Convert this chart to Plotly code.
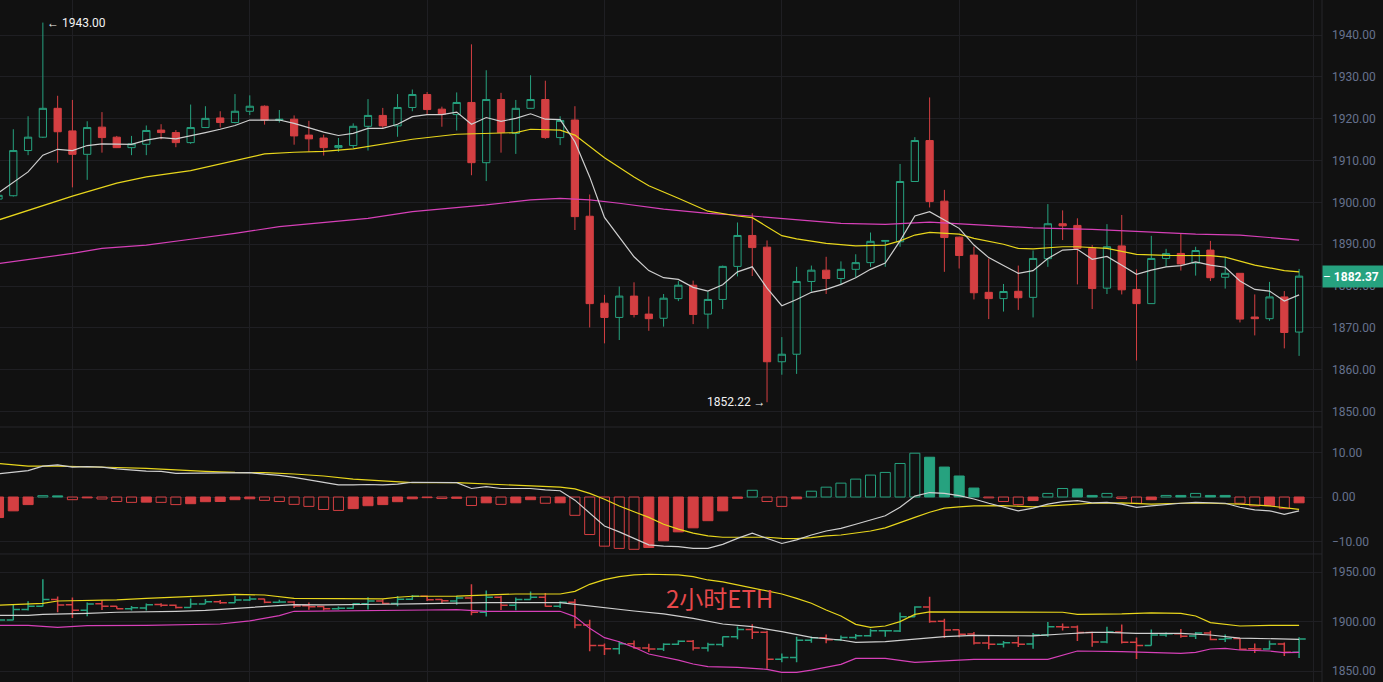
import plotly.graph_objects as go
from plotly.subplots import make_subplots

# --- 2h ETH candles (index 0..88) ---
opens = [1900.8, 1901.6, 1912.4, 1915.6, 1922.5, 1917.1, 1911.5, 1918.0, 1915.6, 1913.1,
         1913.9, 1917.3, 1916.7, 1914.3, 1917.9, 1920.2, 1919.1, 1921.8, 1923.0, 1919.6,
         1919.9, 1916.1, 1915.4, 1913.1, 1913.6, 1918.2, 1920.8, 1918.3, 1922.7, 1925.8,
         1922.3, 1921.0, 1923.9, 1909.5, 1924.6, 1916.5, 1922.5, 1924.6, 1915.5, 1919.7,
         1896.7, 1875.9, 1872.5, 1877.6, 1873.3, 1872.3, 1877.0, 1880.2, 1873.3, 1876.8,
         1884.7, 1892.1, 1889.3, 1861.9, 1863.7, 1881.1, 1883.8, 1881.8, 1884.0, 1885.6,
         1890.7, 1890.6, 1905.0, 1914.8, 1900.3, 1891.7, 1887.4, 1878.5, 1877.0, 1878.75,
         1877.3, 1886.55, 1894.9, 1894.5, 1889.0, 1879.5, 1889.6, 1879.2, 1875.8, 1886.6,
         1887.8, 1885.5, 1888.6, 1882.1, 1883.05, 1872.6, 1872.2, 1877.4, 1869.0]
highs = [1902.0, 1917.5, 1920.6, 1943.0, 1925.5, 1924.5, 1919.4, 1921.6, 1915.9, 1915.9,
         1918.4, 1918.7, 1917.3, 1923.4, 1923.0, 1921.8, 1925.9, 1925.6, 1923.2, 1922.1,
         1920.8, 1919.5, 1916.2, 1915.4, 1918.9, 1924.7, 1922.6, 1925.9, 1927.0, 1926.4,
         1922.9, 1926.3, 1937.8, 1931.6, 1926.2, 1924.5, 1930.4, 1929.1, 1920.6, 1923.0,
         1901.9, 1877.9, 1879.9, 1880.9, 1877.5, 1878.1, 1881.2, 1881.3, 1878.7, 1884.9,
         1895.2, 1897.4, 1890.9, 1867.8, 1884.6, 1884.9, 1887.0, 1885.9, 1887.6, 1892.8,
         1891.0, 1909.2, 1915.6, 1925.1, 1903.0, 1891.8, 1889.4, 1886.6, 1880.5, 1884.9,
         1888.5, 1899.6, 1898.1, 1896.2, 1889.8, 1894.8, 1897.0, 1884.0, 1892.0, 1888.9,
         1892.6, 1889.4, 1890.8, 1887.0, 1883.1, 1878.0, 1881.0, 1878.8, 1884.1]
lows = [1900.5, 1901.4, 1911.3, 1915.4, 1909.5, 1903.6, 1905.4, 1911.9, 1913.0, 1911.3,
        1911.3, 1915.1, 1913.2, 1914.0, 1917.8, 1917.9, 1918.9, 1920.9, 1918.6, 1919.1,
        1913.8, 1912.1, 1911.2, 1912.1, 1913.0, 1912.4, 1917.7, 1915.7, 1921.8, 1920.9,
        1918.1, 1917.2, 1906.5, 1905.1, 1911.9, 1911.6, 1922.4, 1915.2, 1913.7, 1893.4,
        1870.1, 1866.3, 1867.1, 1872.5, 1869.3, 1870.3, 1876.4, 1870.9, 1869.8, 1874.5,
        1882.3, 1882.4, 1852.22, 1858.8, 1859.0, 1878.7, 1878.1, 1880.3, 1882.1, 1884.6,
        1884.6, 1889.4, 1904.9, 1898.8, 1883.4, 1884.2, 1876.8, 1872.1, 1873.9, 1874.3,
        1872.5, 1884.6, 1891.0, 1880.4, 1874.5, 1878.1, 1878.0, 1862.2, 1875.8, 1884.6,
        1883.7, 1882.5, 1881.2, 1879.4, 1871.3, 1868.2, 1871.7, 1865.1, 1863.3]
closes = [1901.7, 1912.4, 1915.6, 1922.5, 1916.9, 1911.5, 1917.9, 1915.5, 1913.1, 1914.0,
          1917.2, 1916.7, 1914.3, 1917.9, 1920.1, 1919.1, 1921.8, 1923.0, 1919.7, 1919.9,
          1915.9, 1915.2, 1913.1, 1913.6, 1918.2, 1920.8, 1918.3, 1922.7, 1925.8, 1922.2,
          1921.1, 1923.9, 1909.5, 1924.6, 1916.7, 1922.5, 1924.6, 1915.5, 1919.6, 1896.6,
          1875.8, 1872.5, 1877.6, 1873.2, 1872.2, 1877.1, 1880.2, 1873.2, 1876.8, 1884.7,
          1892.1, 1889.2, 1861.9, 1863.7, 1881.1, 1883.8, 1881.8, 1884.0, 1885.6, 1890.7,
          1890.9, 1905.0, 1914.8, 1900.2, 1891.6, 1887.3, 1878.4, 1877.0, 1878.7, 1877.2,
          1886.6, 1894.9, 1894.4, 1889.0, 1879.4, 1889.4, 1879.1, 1875.8, 1886.6, 1887.75,
          1885.3, 1888.5, 1882.0, 1883.05, 1872.1, 1872.2, 1877.4, 1868.9, 1882.37]
idx = list(range(len(closes)))

# moving averages on the price panel
ma_white = [1902.3, 1904.7, 1907.3, 1911.3, 1912.7, 1912.4, 1913.6, 1914.0, 1913.9, 1913.9,
            1914.9, 1915.5, 1915.2, 1915.9, 1916.7, 1917.5, 1918.4, 1919.7, 1919.7, 1919.7,
            1918.9, 1917.9, 1916.8, 1916.0, 1916.5, 1917.7, 1917.7, 1918.7, 1920.5, 1921.0,
            1921.0, 1921.6, 1918.7, 1920.3, 1919.4, 1920.1, 1921.2, 1919.9, 1919.8, 1914.5,
            1906.1, 1896.4, 1891.8, 1887.0, 1883.7, 1882.0, 1881.6, 1879.7, 1878.8, 1880.3,
            1883.4, 1884.6, 1879.5, 1875.3, 1876.8, 1878.5, 1879.2, 1880.4, 1882.0, 1884.0,
            1885.5, 1890.8, 1896.75, 1897.8, 1895.8, 1893.8, 1889.8, 1886.8, 1884.9, 1883.05,
            1883.7, 1886.6, 1888.6, 1888.8, 1886.4, 1887.1, 1885.0, 1882.8, 1883.8, 1884.6,
            1884.9, 1885.8, 1885.0, 1884.5, 1881.2, 1879.2, 1878.8, 1876.4, 1877.9]
ma_yellow_x = [0, 3, 5, 8, 10, 13, 16, 18, 20, 22, 24, 26, 28, 31, 33, 35, 36, 38, 39, 41,
               43, 44, 46, 48, 50, 51, 52, 53, 54, 56, 58, 60, 61, 62, 63, 64, 65, 66, 68,
               69, 70, 72, 73, 75, 77, 79, 82, 83, 85, 87, 88]
ma_yellow = [1895.8, 1899.2, 1901.5, 1904.6, 1906.1, 1907.6, 1910.1, 1911.6, 1912.0, 1912.2,
             1912.8, 1913.9, 1915.1, 1916.3, 1916.5, 1916.7, 1917.5, 1917.3, 1916.1, 1910.7,
             1906.1, 1904.0, 1901.0, 1897.9, 1896.75, 1896.35, 1894.2, 1892.05, 1891.3,
             1890.2, 1889.6, 1889.8, 1890.8, 1892.2, 1892.85, 1892.6, 1892.4, 1891.4, 1890.0,
             1889.0, 1888.9, 1889.4, 1889.4, 1889.0, 1887.6, 1887.35, 1887.3, 1886.9, 1885.0,
             1883.7, 1883.4]
ma_pink_x = [0, 3, 5, 7, 10, 13, 16, 19, 22, 25, 28, 31, 33, 36, 38, 40, 42, 45, 48, 51,
             54, 57, 60, 63, 66, 70, 74, 78, 81, 84, 88]
ma_pink = [1885.4, 1886.8, 1887.8, 1889.0, 1889.8, 1891.2, 1892.6, 1894.2, 1895.2, 1896.2,
           1897.8, 1898.8, 1899.4, 1900.6, 1900.95, 1900.6, 1899.8, 1898.4, 1897.4, 1896.75,
           1895.8, 1895.0, 1894.75, 1895.3, 1894.7, 1893.9, 1893.55, 1892.85, 1892.4, 1892.2,
           1891.0]

# MACD panel
macd_hist = [-4.6, -3.1, -1.7, 0.3, 0.25, -0.6, -0.2, -0.45, -1.0, -1.2,
             -1.15, -1.2, -1.7, -1.5, -1.05, -1.0, -0.6, -0.4, -0.75, -1.0,
             -1.65, -2.1, -2.8, -3.0, -2.6, -1.95, -1.7, -1.05, -0.4, -0.15,
             -0.35, -0.3, -1.9, -1.3, -1.65, -1.3, -0.6, -1.4, -1.3, -4.1,
             -8.4, -11.0, -11.5, -11.7, -11.3, -9.8, -7.8, -6.9, -5.3, -3.1,
             -0.3, 1.5, -1.0, -2.1, -0.4, 1.3, 2.2, 3.1, 4.0, 4.9,
             5.5, 7.5, 9.8, 8.9, 6.7, 4.7, 2.0, -0.2, -1.0, -1.7,
             -0.8, 0.8, 1.9, 1.8, 0.35, 0.8, -0.35, -1.4, -0.6, 0.35,
             0.35, 0.8, 0.35, 0.35, -1.4, -2.0, -1.95, -2.6, -1.3]
dif_x = [0, 2, 3, 4, 5, 6, 7, 8, 10, 11, 12, 14, 16, 17, 18, 19, 20, 21, 22, 23, 24, 25,
         26, 27, 28, 31, 32, 33, 34, 36, 37, 38, 39, 40, 41, 42, 43, 44, 45, 46, 47, 48,
         49, 50, 51, 52, 53, 54, 55, 56, 57, 58, 59, 60, 61, 62, 63, 64, 65, 66, 67, 68,
         69, 70, 71, 72, 73, 74, 75, 76, 77, 78, 79, 80, 81, 82, 83, 84, 85, 86, 87, 88]
dif = [5.2, 5.9, 6.9, 7.2, 6.7, 6.8, 6.7, 6.3, 5.8, 5.75, 5.3, 5.3, 5.4, 5.45, 5.1, 4.85,
       4.4, 3.8, 3.3, 2.7, 2.7, 2.8, 2.7, 2.9, 3.3, 3.2, 1.9, 2.3, 1.9, 1.9, 1.6, 1.4,
       -0.7, -3.7, -6.5, -7.8, -9.25, -10.7, -11.0, -11.1, -11.5, -11.5, -10.6, -9.25,
       -8.1, -9.25, -10.4, -9.6, -8.5, -7.6, -7.0, -6.1, -5.15, -4.2, -2.3, 0.2, 1.0, 0.8,
       0.3, -0.45, -1.4, -2.3, -3.1, -2.5, -1.6, -1.05, -0.8, -1.3, -1.2, -1.6, -2.3,
       -2.0, -1.65, -1.4, -1.2, -1.3, -1.4, -2.3, -2.9, -3.1, -3.9, -3.1]
dea_x = [0, 2, 4, 6, 8, 10, 12, 14, 16, 18, 20, 22, 24, 26, 28, 31, 33, 35, 37, 38, 39,
         40, 41, 42, 43, 44, 45, 46, 47, 48, 49, 52, 53, 54, 55, 56, 57, 58, 59, 60, 61,
         62, 63, 64, 65, 66, 68, 70, 72, 74, 76, 78, 80, 82, 84, 86, 88]
dea = [7.5, 6.9, 6.9, 6.8, 6.6, 6.4, 6.0, 5.75, 5.5, 5.45, 5.15, 4.7, 4.0, 3.65, 3.2, 3.2,
       2.9, 2.6, 2.3, 2.2, 1.8, 0.8, -0.5, -2.0, -3.3, -4.55, -6.1, -7.2, -8.1, -8.7,
       -9.0, -9.0, -9.25, -9.3, -9.1, -8.7, -8.5, -8.1, -7.6, -6.9, -5.8, -4.55, -3.4,
       -2.5, -2.2, -2.0, -1.95, -2.2, -1.8, -1.4, -1.3, -1.6, -1.4, -1.4, -1.6, -2.0, -2.75]

# bollinger bands on the lower price panel
boll_up_x = [0, 2, 3, 4, 6, 8, 10, 12, 14, 16, 17, 18, 20, 22, 24, 26, 27, 28, 31, 33,
             35, 38, 39, 40, 41, 42, 43, 44, 46, 47, 48, 49, 50, 51, 52, 53, 54, 55, 56,
             57, 58, 59, 60, 61, 62, 63, 72, 73, 76, 78, 80, 81, 82, 84, 86, 88]
boll_up = [1916.6, 1917.6, 1918.6, 1920.9, 1921.6, 1922.0, 1923.6, 1924.7, 1926.0, 1927.7,
           1927.7, 1927.0, 1923.6, 1923.3, 1922.6, 1923.0, 1924.7, 1925.7, 1925.9, 1927.0,
           1928.0, 1928.0, 1930.7, 1937.8, 1942.6, 1945.6, 1947.3, 1948.0, 1947.3, 1945.6,
           1942.2, 1940.2, 1937.2, 1934.5, 1931.4, 1928.0, 1923.6, 1918.6, 1911.8, 1905.7,
           1897.3, 1894.3, 1895.6, 1900.0, 1907.4, 1909.8, 1909.5, 1907.4, 1907.8, 1908.8,
           1908.4, 1905.7, 1899.0, 1895.6, 1896.3, 1896.3]
boll_mid_x = [0, 2, 3, 5, 6, 8, 10, 12, 14, 16, 18, 20, 22, 24, 26, 28, 31, 33, 38, 39,
              41, 43, 45, 47, 49, 51, 53, 55, 57, 58, 60, 62, 64, 66, 68, 70, 72, 74, 75,
              77, 80, 82, 84, 86, 88]
boll_mid = [1906.4, 1906.4, 1907.4, 1907.8, 1908.4, 1909.5, 1909.8, 1910.5, 1911.5, 1913.5,
            1915.2, 1917.2, 1916.9, 1916.9, 1917.6, 1917.9, 1918.6, 1919.3, 1919.3, 1917.6,
            1913.5, 1910.8, 1907.8, 1903.4, 1897.6, 1894.9, 1889.9, 1884.1, 1881.4, 1879.1,
            1879.8, 1882.1, 1884.8, 1886.2, 1886.2, 1885.5, 1887.5, 1889.2, 1889.2, 1888.2,
            1888.2, 1886.5, 1883.4, 1882.8, 1882.1]
boll_low_x = [0, 2, 4, 6, 10, 14, 15, 17, 19, 20, 24, 28, 29, 31, 33, 38, 39, 40, 41, 42,
              43, 44, 45, 46, 47, 48, 50, 51, 52, 53, 54, 55, 56, 57, 58, 60, 62, 64, 66,
              71, 73, 76, 78, 80, 81, 82, 83, 84, 86, 87, 88]
boll_low = [1896.3, 1896.3, 1894.3, 1895.9, 1896.3, 1897.3, 1897.6, 1900.7, 1906.1, 1910.5,
            1910.8, 1911.1, 1911.8, 1912.2, 1910.5, 1910.5, 1905.1, 1893.2, 1883.8, 1879.7,
            1874.0, 1867.2, 1864.5, 1861.1, 1857.1, 1854.4, 1853.7, 1852.7, 1851.7, 1848.6,
            1848.6, 1851.0, 1853.7, 1856.8, 1862.8, 1862.8, 1858.8, 1860.1, 1861.8, 1861.8,
            1870.3, 1869.6, 1868.9, 1867.9, 1868.9, 1872.3, 1873.0, 1871.3, 1870.3, 1868.6,
            1868.9]

price_ticks = [1850, 1860, 1870, 1880, 1890, 1900, 1910, 1920, 1930, 1940]
macd_ticks = [-10, 0, 10]
boll_ticks = [1850, 1900, 1950]
day_lines = [5, 17, 29, 41, 53, 65, 77, 89]

BG = "#111111"
GRID = "#1f1f23"
GREEN = "#26a27f"
RED = "#d43f42"
WHITE = "#cfcfcf"
YELLOW = "#e8d61c"
PINK = "#d640b8"
LABEL = "#66718e"

fig = make_subplots(rows=3, cols=1, shared_xaxes=True, vertical_spacing=0)

fig.add_trace(go.Candlestick(
    x=idx, open=opens, high=highs, low=lows, close=closes,
    increasing=dict(line=dict(color=GREEN, width=1), fillcolor="rgba(0,0,0,0)"),
    decreasing=dict(line=dict(color=RED, width=1), fillcolor=RED),
    whiskerwidth=0, hoverinfo="skip"), row=1, col=1)
fig.add_trace(go.Scatter(x=ma_pink_x, y=ma_pink, mode="lines",
                         line=dict(color=PINK, width=1.2)), row=1, col=1)
fig.add_trace(go.Scatter(x=ma_yellow_x, y=ma_yellow, mode="lines",
                         line=dict(color=YELLOW, width=1.2)), row=1, col=1)
fig.add_trace(go.Scatter(x=idx, y=ma_white, mode="lines",
                         line=dict(color=WHITE, width=1.2)), row=1, col=1)

# hollow bar when the histogram moves away from zero
fills, edges = [], []
for i, v in enumerate(macd_hist):
    col = GREEN if v >= 0 else RED
    prev = macd_hist[i - 1] if i > 0 else v
    hollow = (v >= 0 and v > prev) or (v < 0 and v < prev)
    fills.append("rgba(0,0,0,0)" if hollow else col)
    edges.append(col)
fig.add_trace(go.Bar(x=idx, y=macd_hist, width=0.68,
                     marker=dict(color=fills, line=dict(color=edges, width=1))),
              row=2, col=1)
fig.add_trace(go.Scatter(x=dea_x, y=dea, mode="lines",
                         line=dict(color=YELLOW, width=1.2)), row=2, col=1)
fig.add_trace(go.Scatter(x=dif_x, y=dif, mode="lines",
                         line=dict(color=WHITE, width=1.2)), row=2, col=1)

fig.add_trace(go.Ohlc(
    x=idx, open=opens, high=highs, low=lows, close=closes, tickwidth=0.45,
    increasing=dict(line=dict(color=GREEN, width=1.5)),
    decreasing=dict(line=dict(color=RED, width=1.5)), hoverinfo="skip"), row=3, col=1)
fig.add_trace(go.Scatter(x=boll_up_x, y=boll_up, mode="lines",
                         line=dict(color=YELLOW, width=1.2)), row=3, col=1)
fig.add_trace(go.Scatter(x=boll_mid_x, y=boll_mid, mode="lines",
                         line=dict(color=WHITE, width=1.2)), row=3, col=1)
fig.add_trace(go.Scatter(x=boll_low_x, y=boll_low, mode="lines",
                         line=dict(color=PINK, width=1.2)), row=3, col=1)

fig.update_xaxes(range=[0.1, 89.55], tickvals=day_lines, showticklabels=False,
                 showgrid=True, gridcolor=GRID, gridwidth=1, zeroline=False,
                 rangeslider_visible=False, ticks="", showline=False)
axis_common = dict(side="right", showgrid=True, gridcolor=GRID, zeroline=False,
                   tickformat=".2f", ticks="", ticklabelstandoff=9,
                   tickfont=dict(family="Roboto", size=12, color=LABEL))
fig.update_yaxes(domain=[0.3739, 1], range=[1846.3, 1948.4], tickvals=price_ticks,
                 row=1, col=1, **axis_common)
fig.update_yaxes(domain=[0.1877, 0.3739], range=[-12.75, 15.66], tickvals=macd_ticks,
                 row=2, col=1, **axis_common)
fig.update_yaxes(domain=[0, 0.1877], range=[1838.9, 1968.5], tickvals=boll_ticks,
                 row=3, col=1, **axis_common)

shapes = [
    dict(type="line", xref="paper", yref="paper", x0=0, x1=1, y0=0.3739, y1=0.3739,
         line=dict(color="#26262b", width=1)),
    dict(type="line", xref="paper", yref="paper", x0=0, x1=1, y0=0.1877, y1=0.1877,
         line=dict(color="#26262b", width=1)),
    dict(type="line", xref="paper", yref="paper", x0=1, x1=1, y0=0, y1=1,
         line=dict(color="#26262b", width=1)),
]

annotations = [
    dict(x=3, y=highs[3], xref="x", yref="y", text="← 1943.00", showarrow=False,
         xanchor="left", yanchor="middle", xshift=2,
         font=dict(family="Roboto", size=12, color="#f2f2f2")),
    dict(x=52, y=lows[52], xref="x", yref="y", text="1852.22 →", showarrow=False,
         xanchor="right", yanchor="middle", xshift=1,
         font=dict(family="Roboto", size=12, color="#f2f2f2")),
    dict(x=1, y=closes[-1], xref="paper", yref="y", text="– <b>1882.37</b>",
         showarrow=False, xanchor="left", yanchor="middle", align="left",
         width=61, height=21, bgcolor=GREEN, borderpad=0,
         font=dict(family="Roboto", size=12, color="#ffffff")),
    dict(x=48.8, y=1924, xref="x3", yref="y3", text="2小时ETH", showarrow=False,
         xanchor="center", yanchor="middle",
         font=dict(family="Noto Sans CJK SC", size=24, color="#e5484b")),
]

fig.update_layout(
    width=1383, height=682,
    margin=dict(l=0, r=61, t=0, b=0),
    paper_bgcolor=BG, plot_bgcolor=BG,
    showlegend=False, bargap=0.3,
    shapes=shapes, annotations=annotations,
    hovermode=False,
)

fig.write_html("out.html", config={"displayModeBar": False},
               post_script="document.body.style.margin='0';")
